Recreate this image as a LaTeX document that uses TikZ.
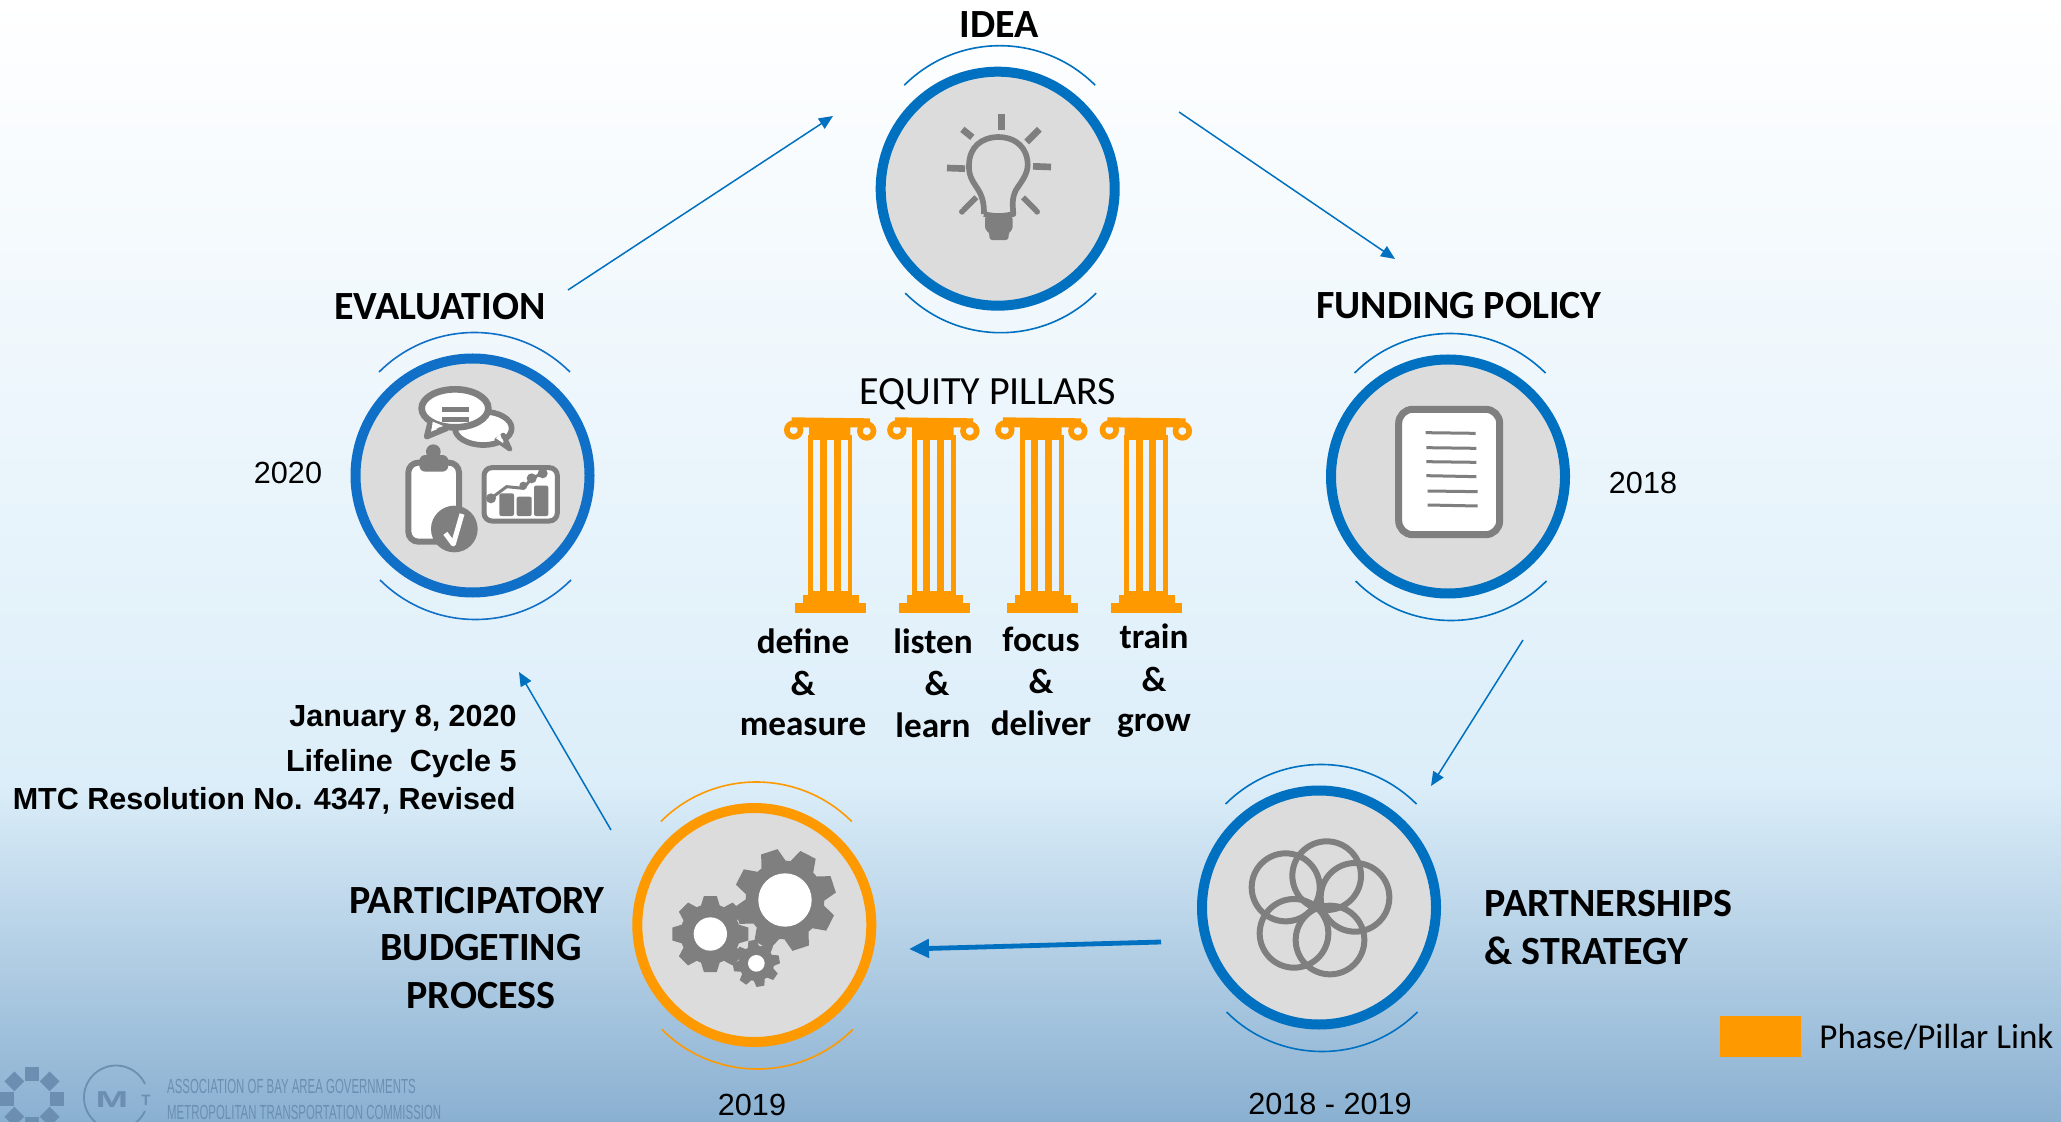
\documentclass[tikz,border=0pt]{standalone}
\usepackage{fontspec}
\setmainfont{Carlito}
\newfontfamily\arialf{Liberation Sans}
\usetikzlibrary{arrows.meta}
\definecolor{mtcblue}{HTML}{0070C0}
\definecolor{evalblue}{HTML}{106FC6}
\definecolor{pillarorange}{HTML}{FF9900}
\definecolor{icongray}{HTML}{7F7F7F}
\definecolor{discgray}{HTML}{DCDCDC}
\definecolor{logoblue}{HTML}{6C8EB0}
\definecolor{bgmid}{HTML}{DCEEF9}
\definecolor{bgend}{HTML}{8AB0D1}
\tikzset{
  disc/.style={circle,draw=#1,fill=discgray,line width=5pt,minimum size=117pt,inner sep=0pt,outer sep=0pt},
  swoosh/.style={draw=#1,line width=0.8pt},
  flowline/.style={draw=mtcblue,line width=0.75pt,-{Triangle[length=7pt,width=6pt]}},
  flowthick/.style={draw=mtcblue,line width=2.4pt,-{Triangle[length=10pt,width=9pt]}},
  heading/.style={font=\bfseries\fontsize{20}{22}\selectfont,text=black,inner sep=0pt},
  pillartext/.style={font=\bfseries\fontsize{17.6}{19}\selectfont,text=black,inner sep=0pt},
  yearlabel/.style={font=\arialf\fontsize{15.3}{17}\selectfont,text=black,inner sep=0pt},
  notelabel/.style={font=\arialf\bfseries\fontsize{15.25}{17}\selectfont,text=black,inner sep=0pt,anchor=east},
  logotext/.style={font=\arialf\fontsize{10.2}{12}\selectfont,text=logoblue,inner sep=0pt,anchor=west,xscale=0.56},
  iconline/.style={draw=icongray,line width=#1*0.16667pt},
  zoomed/.style={x=0.16667pt,y=-0.16667pt},
}
% ring with its two swooshes: name, colour, cx, cy
\newcommand\ringicon[4]{%
  \node[disc=#2] (#1) at (#3,#4) {};
  \draw[swoosh=#2] ([shift={(#3+2,#4-8)}]225:135) arc (225:315:135);
  \draw[swoosh=#2] ([shift={(#3+3,#4+9)}]45:135) arc (45:135:135);
}
% cx cy outer root hole n phase
\newcommand\cogwheel[7]{%
  \fill[icongray] (#1,#2) circle (#4);
  \foreach \k in {1,...,#6}{
    \pgfmathsetmacro\ang{#7+360*\k/#6}
    \fill[icongray,shift={(#1,#2)},rotate=\ang]
      (#4-6,{-0.25*#3}) -- (#3,{-0.17*#3}) -- (#3,{0.17*#3}) -- (#4-6,{0.25*#3}) -- cycle;
  }
  \fill[white] (#1,#2) circle (#5);
}
% column centre, base centre
\newcommand\pillar[2]{%
  \fill[pillarorange] (#1-116,52) -- (#1+119,55) -- (#1+119,82) -- (#1+60,82) -- (#1+60,120) -- (#1-64,120) -- (#1-64,82) -- (#1-116,82) -- cycle;
  \draw[pillarorange,line width=17*0.16667pt] (#1-110,90) circle (20.5);
  \draw[pillarorange,line width=17*0.16667pt] (#1+109,93) circle (20.5);
  \fill[pillarorange] (#1-66,105) rectangle (#1-51,585);
  \fill[pillarorange] (#1-31,105) rectangle (#1-10,585);
  \fill[pillarorange] (#1+10,105) rectangle (#1+31,585);
  \fill[pillarorange] (#1+52,105) rectangle (#1+66,585);
  \fill[pillarorange] (#1-66,573) rectangle (#1+66,590);
  \fill[pillarorange] (#2-84,585) rectangle (#2+84,610);
  \fill[pillarorange] (#2-106,609) rectangle (#2+107,638);
}
\begin{document}
\begin{tikzpicture}[x=0.5pt,y=-0.5pt]
\clip (0,0) rectangle (2061,1122);
% background
\fill[top color=white,bottom color=bgmid] (0,0) rectangle (2061,781);
\fill[top color=bgmid,bottom color=bgend] (0,780) rectangle (2061,1122);

% rings
\ringicon{idea}{mtcblue}{997.7}{188.7}
\ringicon{evaluation}{evalblue}{472.5}{475.5}
\ringicon{funding}{mtcblue}{1448}{476.5}
\ringicon{partner}{mtcblue}{1319}{907.5}
\ringicon{budget}{pillarorange}{754.3}{925}

% bulb
\begin{scope}[shift={(860,40)},zoomed]
  \draw[iconline=17,line join=round]
    (372,522) .. controls (372,490) and (368,470) .. (352,445)
    .. controls (335,420) and (326,405) .. (327,375)
    .. controls (328,320) and (365,292) .. (415,291)
    .. controls (470,292) and (503,325) .. (503,375)
    .. controls (503,405) and (480,430) .. (468,450)
    .. controls (455,475) and (458,495) .. (460,522)
    .. controls (430,530) and (400,530) .. (372,522);
  \fill[icongray,rounded corners=1.5pt] (375,528) -- (458,528) -- (458,570) -- (446,576) -- (446,600) -- (388,600) -- (388,576) -- (375,570) -- cycle;
  \draw[iconline=20] (424,222) -- (424,270);
  \draw[iconline=20] (538,268) -- (500,306);
  \draw[iconline=20] (519,379) -- (573,381);
  \draw[iconline=20] (261,384) -- (315,386);
  \draw[iconline=20] (307,268) -- (337,292);
  \draw[iconline=17] (489,472) -- (528,511);
  \draw[iconline=17] (349,472) -- (310,511);
  \fill[icongray] (531,515) circle (9);
  \fill[icongray] (306,515) circle (9);
\end{scope}

% evaluation icon
\begin{scope}[shift={(340,320)},zoomed]
  \draw[iconline=17,fill=white,line join=round] (430,325) ellipse (85 and 50);
  \fill[white,draw=icongray,line width=14*0.16667pt,line join=round] (470,360) -- (510,388) -- (490,345) -- cycle;
  \fill[white] (468,355) -- (490,370) -- (480,340) -- cycle;
  \fill[white,draw=icongray,line width=17*0.16667pt,line join=round] (270,310) -- (260,350) -- (320,325) -- cycle;
  \draw[iconline=20,fill=white] (345,265) ellipse (100 and 57);
  \fill[white] (278,305) -- (275,330) -- (310,318) -- cycle;
  \fill[icongray] (305,260) rectangle (387,275);
  \fill[icongray] (305,290) rectangle (387,305);
  \draw[iconline=18,fill=white,rounded corners=5pt] (205,428) rectangle (357,665);
  \fill[icongray] (280,395) circle (22);
  \fill[icongray,rounded corners=3pt] (238,405) rectangle (325,455);
  \fill[icongray] (343,627) circle (70);
  \draw[white,line width=15*0.16667pt,line join=round] (316,640) -- (340,672) -- (366,582);
  \draw[iconline=15,fill=white,rounded corners=4pt] (432,443) rectangle (652,603);
  \fill[icongray,rounded corners=1pt] (478,520) rectangle (522,588);
  \fill[icongray,rounded corners=1pt] (530,530) rectangle (575,588);
  \fill[icongray,rounded corners=1pt] (582,497) rectangle (625,588);
  \draw[iconline=9] (453,535) -- (500,500) -- (550,505) -- (575,475) -- (608,460);
  \fill[icongray] (453,535) circle (15);
  \fill[icongray] (550,497) circle (12);
  \fill[icongray] (575,475) circle (15);
  \fill[icongray] (608,460) circle (15);
\end{scope}

% document icon
\begin{scope}[shift={(1330,350)},zoomed]
  \draw[iconline=21,fill=white,rounded corners=7pt] (206,178) rectangle (509,554);
  \draw[iconline=9] (287,248) -- (437,250);
  \draw[iconline=9] (289,293) -- (439,295);
  \draw[iconline=9] (289,335) -- (439,337);
  \draw[iconline=9] (289,377) -- (439,380);
  \draw[iconline=9] (293,423) -- (443,425);
  \draw[iconline=9] (293,465) -- (443,468);
\end{scope}

% overlapping circles
\begin{scope}[shift={(1190,780)},zoomed]
  \draw[iconline=18] (287,322) circle (102);
  \draw[iconline=18] (410,287) circle (103);
  \draw[iconline=18] (495,352) circle (103);
  \draw[iconline=18] (420,480) circle (103);
  \draw[iconline=18] (312,460) circle (103);
\end{scope}

% gears
\begin{scope}[shift={(630,780)},zoomed]
  \cogwheel{241}{462}{114}{90}{50}{8}{0}
  \cogwheel{465}{360}{152}{118}{80}{8}{18}
  \cogwheel{379}{550}{70}{53}{25}{8}{10}
\end{scope}

% pillars
\begin{scope}[shift={(770,400)},zoomed]
  \pillar{181}{181.5}
  \pillar{490.5}{493.5}
  \pillar{814.5}{817.5}
  \pillar{1128}{1129.5}
\end{scope}

% headings
\node[heading] (tidea) at (999,25) {IDEA};
\node[heading] (tfunding) at (1459,306) {FUNDING POLICY};
\node[heading] (teval) at (440,307) {EVALUATION};
\node[heading] (tpb1) at (477,901) {PARTICIPATORY};
\node[heading] (tpb2) at (481,948) {BUDGETING};
\node[heading] (tpb3) at (481,996) {PROCESS};
\node[heading,anchor=west] (tps1) at (1484,904) {PARTNERSHIPS};
\node[heading,anchor=west] (tps2) at (1484,951) {\& STRATEGY};

% years
\node[yearlabel] (y2020) at (288,473) {2020};
\node[yearlabel] (y2018) at (1643,483) {2018};
\node[yearlabel] (y2019) at (752,1105) {2019};
\node[yearlabel] (y1819) at (1330,1104) {2018 - 2019};

% notes
\node[notelabel] (n1) at (517,719) {January 8, 2020};
\node[notelabel] (n2) at (517,764) {Lifeline\ \ Cycle 5};
\node[notelabel] (n3) at (516,801) {MTC Resolution No. 4347, Revised};

% equity pillars
\node[font=\fontsize{20}{22}\selectfont,inner sep=0pt] (eq) at (988,394) {EQUITY PILLARS};
\node[pillartext] (a1) at (803,641) {define};
\node[pillartext] (a2) at (803,683) {\&};
\node[pillartext] (a3) at (803,727) {measure};
\node[pillartext] (b1) at (933,641) {listen};
\node[pillartext] (b2) at (937,683) {\&};
\node[pillartext] (b3) at (933,725) {learn};
\node[pillartext] (c1) at (1041,639) {focus};
\node[pillartext] (c2) at (1041,681) {\&};
\node[pillartext] (c3) at (1041,723) {deliver};
\node[pillartext] (d1) at (1154,636) {train};
\node[pillartext] (d2) at (1154,679) {\&};
\node[pillartext] (d3) at (1154,726) {grow};

% legend
\fill[pillarorange] (1720,1016) rectangle (1801,1057);
\node[font=\fontsize{17.5}{19}\selectfont,inner sep=0pt,anchor=west] (leg) at (1819,1037) {Phase/Pillar Link};

% connectors
\coordinate (e1s) at (568,290); \coordinate (e1t) at (833,116);
\coordinate (e2s) at (1179,112); \coordinate (e2t) at (1395,259);
\coordinate (e3s) at (1523,640); \coordinate (e3t) at (1431,786);
\coordinate (e4s) at (1161,942); \coordinate (e4t) at (909,949);
\coordinate (e5s) at (611,830); \coordinate (e5t) at (519,672);
\draw[flowline] (e1s) -- (e1t);
\draw[flowline] (e2s) -- (e2t);
\draw[flowline] (e3s) -- (e3t);
\draw[flowthick] (e4s) -- (e4t);
\draw[flowline] (e5s) -- (e5t);

% logos
\foreach \a in {0,45,...,315}{
  \fill[logoblue,shift={(32,1099)},rotate=\a] (18,-7) rectangle (32,7);
}
\draw[logoblue,line width=0.9pt] (145,1084) arc (-25:-335:32);
\node[font=\arialf\bfseries\fontsize{11.5}{12}\selectfont,text=logoblue,inner sep=0pt,xscale=1.7] (logom) at (112,1100) {M};
\node[font=\arialf\bfseries\fontsize{7.5}{8}\selectfont,text=logoblue,inner sep=0pt] (logot) at (146,1100) {T};
\node[logotext] (logo1) at (167,1086) {ASSOCIATION OF BAY AREA GOVERNMENTS};
\node[logotext] (logo2) at (167,1112) {METROPOLITAN TRANSPORTATION COMMISSION};
\end{tikzpicture}
\end{document}
